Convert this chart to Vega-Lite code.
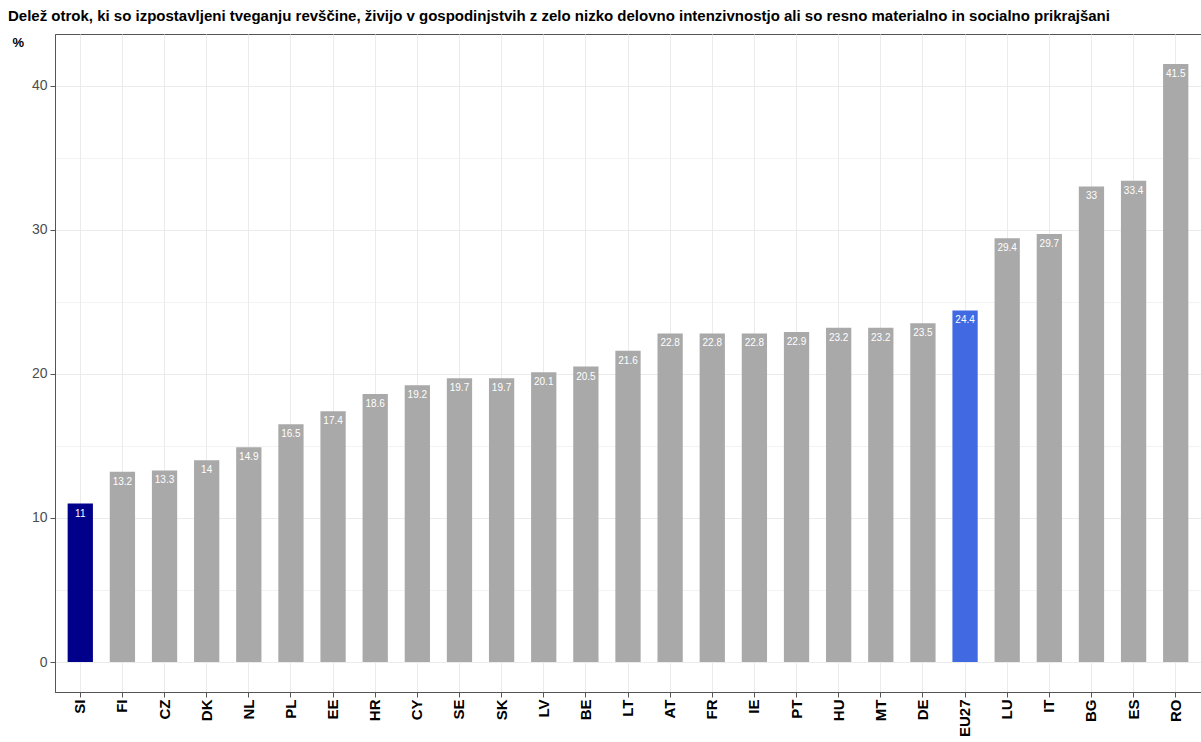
{
  "$schema": "https://vega.github.io/schema/vega-lite/v6.json",
  "autosize": {"type": "none"},
  "padding": {"left": 55, "top": 34, "right": 0, "bottom": 50},
  "width": 1146,
  "height": 658,
  "background": "white",
  "config": {
    "font": "Liberation Sans",
    "view": {"stroke": "#555555", "strokeWidth": 1}
  },
  "title": {
    "text": "Delež otrok, ki so izpostavljeni tveganju revščine, živijo v gospodinjstvih z zelo nizko delovno intenzivnostjo ali so resno materialno in socialno prikrajšani",
    "anchor": "start",
    "frame": "group",
    "dx": -47,
    "dy": 16,
    "offset": 14,
    "baseline": "alphabetic",
    "font": "Liberation Sans",
    "fontSize": 15,
    "fontWeight": "bold",
    "color": "#000000"
  },
  "data": {
    "values": [
      {"country": "SI", "value": 11, "group": "SI"},
      {"country": "FI", "value": 13.2, "group": "other"},
      {"country": "CZ", "value": 13.3, "group": "other"},
      {"country": "DK", "value": 14, "group": "other"},
      {"country": "NL", "value": 14.9, "group": "other"},
      {"country": "PL", "value": 16.5, "group": "other"},
      {"country": "EE", "value": 17.4, "group": "other"},
      {"country": "HR", "value": 18.6, "group": "other"},
      {"country": "CY", "value": 19.2, "group": "other"},
      {"country": "SE", "value": 19.7, "group": "other"},
      {"country": "SK", "value": 19.7, "group": "other"},
      {"country": "LV", "value": 20.1, "group": "other"},
      {"country": "BE", "value": 20.5, "group": "other"},
      {"country": "LT", "value": 21.6, "group": "other"},
      {"country": "AT", "value": 22.8, "group": "other"},
      {"country": "FR", "value": 22.8, "group": "other"},
      {"country": "IE", "value": 22.8, "group": "other"},
      {"country": "PT", "value": 22.9, "group": "other"},
      {"country": "HU", "value": 23.2, "group": "other"},
      {"country": "MT", "value": 23.2, "group": "other"},
      {"country": "DE", "value": 23.5, "group": "other"},
      {"country": "EU27", "value": 24.4, "group": "EU27"},
      {"country": "LU", "value": 29.4, "group": "other"},
      {"country": "IT", "value": 29.7, "group": "other"},
      {"country": "BG", "value": 33, "group": "other"},
      {"country": "ES", "value": 33.4, "group": "other"},
      {"country": "RO", "value": 41.5, "group": "other"}
    ]
  },
  "encoding": {
    "x": {
      "field": "country",
      "type": "nominal",
      "sort": null,
      "scale": {"paddingInner": 0.4, "paddingOuter": 0.3},
      "axis": {
        "title": null,
        "labelAngle": -90,
        "labelFont": "Liberation Sans",
        "labelFontSize": 15,
        "labelFontWeight": "bold",
        "labelColor": "#000000",
        "labelPadding": 2,
        "domainColor": "#555555",
        "tickColor": "#555555",
        "tickSize": 5,
        "grid": true,
        "gridColor": "#EBEBEB",
        "gridWidth": 1
      }
    },
    "y": {
      "field": "value",
      "type": "quantitative",
      "scale": {"domain": [-2.075, 43.575], "nice": false, "zero": false},
      "axis": {
        "title": "%",
        "titleAngle": 0,
        "titleAlign": "left",
        "titleBaseline": "top",
        "titleX": -43,
        "titleY": 2,
        "titleFont": "Liberation Sans",
        "titleFontSize": 13,
        "titleFontWeight": "bold",
        "titleColor": "#000000",
        "values": [0, 5, 10, 15, 20, 25, 30, 35, 40],
        "labelExpr": "datum.value % 10 == 0 ? datum.label : ''",
        "labelFont": "Liberation Sans",
        "labelFontSize": 14,
        "labelColor": "#4D4D4D",
        "labelPadding": 3,
        "domainColor": "#555555",
        "tickColor": "#555555",
        "tickSize": 5,
        "tickOpacity": {"expr": "datum.value % 10 == 0 ? 1 : 0"},
        "grid": true,
        "gridColor": "#EBEBEB",
        "gridWidth": {"expr": "datum.value % 10 == 0 ? 1.1 : 0.6"}
      }
    }
  },
  "layer": [
    {
      "mark": {"type": "bar"},
      "encoding": {
        "color": {
          "field": "group",
          "type": "nominal",
          "scale": {"domain": ["SI", "EU27", "other"], "range": ["#00008B", "#4169E1", "#A9A9A9"]},
          "legend": null
        }
      }
    },
    {
      "mark": {"type": "text", "baseline": "top", "dy": 5, "color": "#FFFFFF", "fontSize": 10, "font": "Liberation Sans"},
      "encoding": {
        "text": {"field": "value", "type": "quantitative"}
      }
    }
  ]
}
